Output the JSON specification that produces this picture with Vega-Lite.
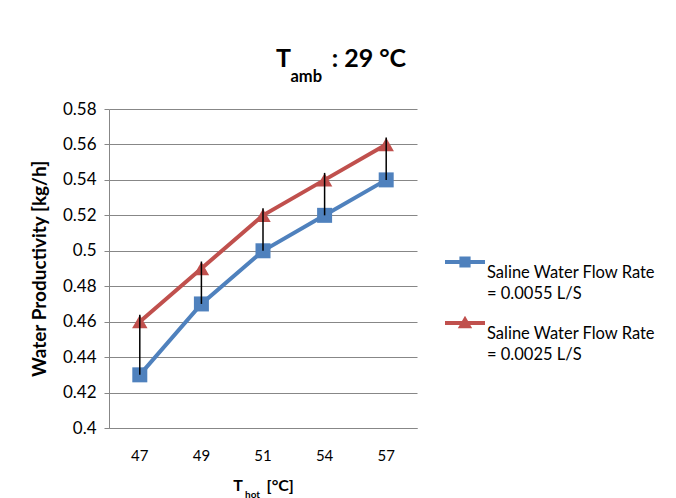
{
  "$schema": "https://vega.github.io/schema/vega-lite/v6.json",
  "width": 308,
  "height": 319,
  "autosize": {"type": "none"},
  "padding": {"left": 109, "top": 109, "right": 259, "bottom": 70},
  "background": "white",
  "title": {
    "text": "T\u2003\u2003\u2009: 29 °C",
    "subtitle": "\u200b\u2003\u2009amb",
    "anchor": "start",
    "frame": "group",
    "dx": 167,
    "offset": 15,
    "font": "Lato",
    "fontSize": 25,
    "fontWeight": "bold",
    "color": "#000000",
    "subtitleFont": "Lato",
    "subtitleFontSize": 16.5,
    "subtitleFontWeight": "bold",
    "subtitleColor": "#000000",
    "subtitlePadding": -3
  },
  "data": {
    "values": [
      {"t": 47, "productivity": 0.43, "series": "Saline Water Flow Rate|= 0.0055 L/S"},
      {"t": 49, "productivity": 0.47, "series": "Saline Water Flow Rate|= 0.0055 L/S"},
      {"t": 51, "productivity": 0.50, "series": "Saline Water Flow Rate|= 0.0055 L/S"},
      {"t": 54, "productivity": 0.52, "series": "Saline Water Flow Rate|= 0.0055 L/S"},
      {"t": 57, "productivity": 0.54, "series": "Saline Water Flow Rate|= 0.0055 L/S"},
      {"t": 47, "productivity": 0.46, "series": "Saline Water Flow Rate|= 0.0025 L/S"},
      {"t": 49, "productivity": 0.49, "series": "Saline Water Flow Rate|= 0.0025 L/S"},
      {"t": 51, "productivity": 0.52, "series": "Saline Water Flow Rate|= 0.0025 L/S"},
      {"t": 54, "productivity": 0.54, "series": "Saline Water Flow Rate|= 0.0025 L/S"},
      {"t": 57, "productivity": 0.56, "series": "Saline Water Flow Rate|= 0.0025 L/S"}
    ]
  },
  "config": {
    "view": {"stroke": null},
    "font": "Lato",
    "axis": {
      "labelFont": "Lato",
      "labelColor": "#000000",
      "titleFont": "Lato",
      "titleColor": "#000000",
      "domainColor": "#878787",
      "tickColor": "#878787",
      "gridColor": "#878787",
      "gridOpacity": 1,
      "domainWidth": 1,
      "gridWidth": 1
    },
    "axisY": {
      "title": "Water Productivity [kg/h]",
      "values": [0.4, 0.42, 0.44, 0.46, 0.48, 0.5, 0.52, 0.54, 0.56, 0.58],
      "format": ".2~f",
      "grid": true,
      "tickSize": 5,
      "labelFontSize": 17,
      "labelPadding": 8,
      "titleFontSize": 19,
      "titleFontWeight": "bold",
      "titlePadding": 13
    }
  },
  "layer": [
    {
      "mark": {"type": "line", "strokeWidth": 4},
      "encoding": {
        "x": {
          "field": "t",
          "type": "ordinal",
          "scale": {"paddingInner": 0, "paddingOuter": 0},
          "axis": {
            "title": "T\u2003\u2002 [°C]",
            "labelAngle": 0,
            "labelFontSize": 15,
            "labelPadding": 20,
            "ticks": false,
            "tickSize": 0,
            "grid": false,
            "titleFontSize": 16,
            "titleFontWeight": "bold",
            "titleY": 62,
            "titleBaseline": "alphabetic"
          }
        },
        "y": {
          "field": "productivity",
          "type": "quantitative",
          "scale": {"domain": [0.4, 0.58], "nice": false, "zero": false},
          "axis": {"title": "Water Productivity [kg/h]"}
        },
        "color": {
          "field": "series",
          "type": "nominal",
          "scale": {
            "domain": ["Saline Water Flow Rate|= 0.0055 L/S", "Saline Water Flow Rate|= 0.0025 L/S"],
            "range": ["#4F81BD", "#C0504D"]
          }
        }
      }
    },
    {
      "transform": [{"filter": "datum.series === 'Saline Water Flow Rate|= 0.0055 L/S'"}],
      "mark": {"type": "square", "filled": true, "opacity": 1, "size": 225},
      "encoding": {
        "x": {"field": "t", "type": "ordinal", "axis": null},
        "y": {"field": "productivity", "type": "quantitative", "axis": {"title": "Water Productivity [kg/h]"}},
        "color": {"field": "series", "type": "nominal"}
      }
    },
    {
      "transform": [{"filter": "datum.series === 'Saline Water Flow Rate|= 0.0025 L/S'"}],
      "mark": {"type": "point", "shape": "triangle-up", "filled": true, "opacity": 1, "size": 240},
      "encoding": {
        "x": {"field": "t", "type": "ordinal", "axis": null},
        "y": {"field": "productivity", "type": "quantitative", "axis": {"title": "Water Productivity [kg/h]"}},
        "color": {"field": "series", "type": "nominal"}
      }
    },
    {
      "mark": {"type": "point", "filled": true, "opacity": 0, "size": 1},
      "encoding": {
        "x": {"field": "t", "type": "ordinal", "axis": null},
        "y": {"field": "productivity", "type": "quantitative", "axis": {"title": "Water Productivity [kg/h]"}},
        "color": {
          "field": "series",
          "type": "nominal",
          "legend": {
            "title": null,
            "orient": "none",
            "legendX": 336,
            "legendY": 133,
            "padding": 0,
            "labelExpr": "split(datum.label, '|')",
            "labelFont": "Lato",
            "labelFontSize": 16.5,
            "labelColor": "#000000",
            "labelLimit": 0,
            "labelOffset": 2,
            "symbolSize": 1600,
            "symbolOpacity": 1,
            "symbolStrokeWidth": 0,
            "rowPadding": 1,
            "encode": {
              "labels": {
                "update": {"dy": {"value": 10.5}, "lineHeight": {"value": 21}}
              }
            }
          }
        },
        "shape": {
          "field": "series",
          "type": "nominal",
          "scale": {
            "domain": ["Saline Water Flow Rate|= 0.0055 L/S", "Saline Water Flow Rate|= 0.0025 L/S"],
            "range": [
              "M-1,-0.1H1V0.1H-1Z M-0.28,-0.28H0.28V0.28H-0.28Z",
              "M-1,-0.1H1V0.1H-1Z M0,-0.36L0.36,0.26H-0.36Z"
            ]
          },
          "legend": {
            "title": null,
            "orient": "none",
            "legendX": 336,
            "legendY": 133,
            "padding": 0,
            "labelExpr": "split(datum.label, '|')",
            "labelFont": "Lato",
            "labelFontSize": 16.5,
            "labelColor": "#000000",
            "labelLimit": 0,
            "labelOffset": 2,
            "symbolSize": 1600,
            "symbolOpacity": 1,
            "symbolStrokeWidth": 0,
            "rowPadding": 1,
            "encode": {
              "labels": {
                "update": {"dy": {"value": 10.5}, "lineHeight": {"value": 21}}
              }
            }
          }
        }
      }
    },
    {
      "mark": {"type": "rule", "color": "#000000", "strokeWidth": 1.5, "y2Offset": -7},
      "encoding": {
        "x": {
          "field": "t",
          "type": "ordinal",
          "axis": {
            "title": "hot",
            "orient": "bottom",
            "labels": false,
            "ticks": false,
            "domain": false,
            "grid": false,
            "titleFontSize": 10,
            "titleFontWeight": "bold",
            "titleX": 143,
            "titleY": 69,
            "titleBaseline": "alphabetic"
          }
        },
        "y": {"aggregate": "min", "field": "productivity", "type": "quantitative", "axis": {"title": "Water Productivity [kg/h]"}},
        "y2": {"aggregate": "max", "field": "productivity"}
      }
    }
  ],
  "resolve": {"axis": {"x": "independent"}}
}
